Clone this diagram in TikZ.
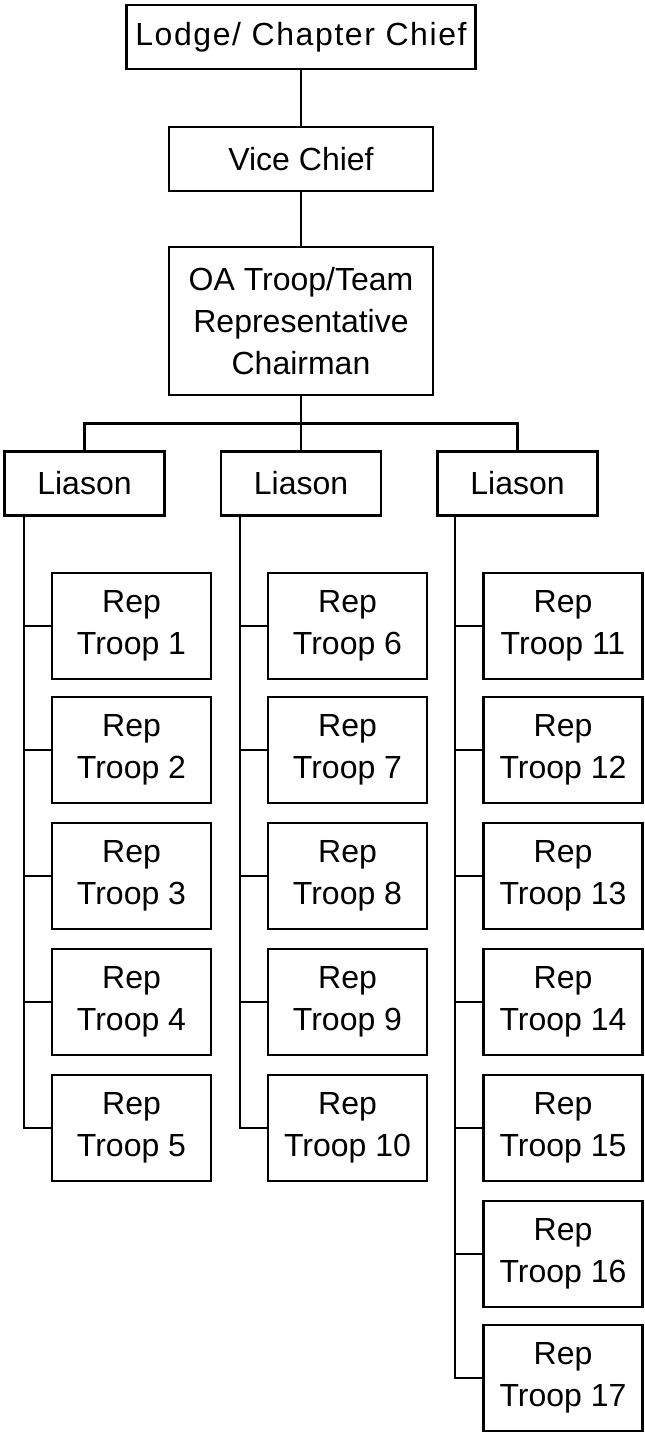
\documentclass[tikz,border=0pt]{standalone}
\usepackage{fontspec}
\setmainfont{Liberation Sans}
\newfontfamily\widefont[LetterSpace=5]{Liberation Sans}
\begin{document}
\begin{tikzpicture}[x=1pt,y=-1pt,
  box/.style={draw=black,line width=2.3pt,inner sep=0pt,align=center,
    font=\fontsize{32}{42}\selectfont},
  wire/.style={draw=black,line width=2.4pt},
  spine/.style={draw=black,line width=1.9pt}]
\useasboundingbox (0,0) rectangle (645,1432);
\node[box,minimum width=349pt,minimum height=64pt,font=\widefont\fontsize{32}{42}\selectfont] (L) at (301,37) {Lodge/ Chapter Chief};
\node[box,minimum width=264pt,minimum height=64pt] (V) at (301,159) {Vice Chief};
\node[box,minimum width=264pt,minimum height=148pt] (OA) at (301,321) {OA Troop/Team\\Representative\\Chairman};
\node[box,minimum width=160pt,minimum height=64pt] (A1) at (84.5,483.5) {Liason};
\node[box,minimum width=160pt,minimum height=64pt] (A2) at (301,483.5) {Liason};
\node[box,minimum width=160pt,minimum height=64pt] (A3) at (517.5,483.5) {Liason};
\foreach \i/\x/\y in {1/131.5/626,2/131.5/750,3/131.5/876,4/131.5/1002,5/131.5/1128,
  6/347.5/626,7/347.5/750,8/347.5/876,9/347.5/1002,10/347.5/1128,
  11/563/626,12/563/750,13/563/876,14/563/1002,15/563/1128,16/563/1254,17/563/1378}
  \node[box,minimum width=159pt,minimum height=106pt] (R\i) at (\x,\y) {Rep\\Troop \i};
\draw[wire] (L) -- (V);
\draw[wire] (V) -- (OA);
\draw[wire] (OA.south) -- (A2.north);
\coordinate (bus) at (301,423.5);
\draw[wire] (A1.north) |- (bus) -| (A3.north);
\coordinate (s1) at ([xshift=21pt]A1.south west);
\coordinate (s2) at ([xshift=20pt]A2.south west);
\coordinate (s3) at ([xshift=19pt]A3.south west);
\draw[spine] (s1) |- (R5.west);
\draw[spine] (s2) |- (R10.west);
\draw[spine] (s3) |- (R17.west);
\foreach \i in {1,2,3,4} \draw[wire] (R\i.west -| s1) -- (R\i.west);
\foreach \i in {6,7,8,9} \draw[wire] (R\i.west -| s2) -- (R\i.west);
\foreach \i in {11,12,13,14,15,16} \draw[wire] (R\i.west -| s3) -- (R\i.west);
\end{tikzpicture}
\end{document}
